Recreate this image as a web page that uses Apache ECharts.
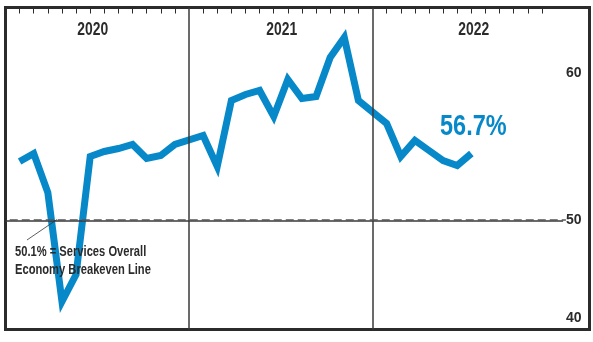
<!DOCTYPE html>
<html>
<head>
<meta charset="utf-8">
<script src="https://cdn.jsdelivr.net/npm/echarts@6/dist/echarts.min.js"></script>
<style>
  html, body { margin: 0; padding: 0; background: #fff; }
  #chart { width: 593px; height: 342px; }
</style>
</head>
<body>
<div id="chart"></div>
<script>
// ---- data ----
const years = ['2020', '2021', '2022'];
const months = ['Jan', 'Feb', 'Mar', 'Apr', 'May', 'Jun', 'Jul', 'Aug', 'Sep', 'Oct', 'Nov', 'Dec'];
const values2020 = [55.9, 56.7, 52.8, 41.9, 44.6, 56.4, 56.9, 57.2, 57.6, 56.2, 56.5, 57.6];
const values2021 = [58.5, 55.4, 62.0, 62.6, 63.0, 60.4, 64.1, 62.2, 62.4, 66.3, 68.3, 62.0];
const values2022 = [59.7, 56.4, 58.0, 57.0, 56.0, 55.5, 56.7];
const yTickValues = [40, 50, 60];
const baseline = 50;
const breakeven = 50.1;
const breakevenLines = [breakeven + '% = Services Overall', 'Economy Breakeven Line'];

// ---- layout (each year = 12 month slots + 1 spacer slot) ----
const slotsPerYear = months.length + 1;
const seriesByYear = [values2020, values2021, values2022];
const points = [];
seriesByYear.forEach((vals, yi) => {
  vals.forEach((v, mi) => points.push([yi * slotsPerYear + mi + 1, v]));
});
const tickPositions = [];
years.forEach((y, yi) => months.forEach((m, mi) => tickPositions.push(yi * slotsPerYear + mi + 1)));

const FONT = '"Liberation Sans", Arial, sans-serif';
const DARK = '#2b2b2b';
const BLUE = '#0788c8';
const xMax = 41.37;

const chart = echarts.init(document.getElementById('chart'), null, { renderer: 'canvas' });

chart.setOption({
  animation: false,
  backgroundColor: '#fff',
  grid: {
    left: 5.5, right: 3.5, top: 7.5, bottom: 12.5,
    show: true, borderColor: DARK, borderWidth: 3, backgroundColor: 'transparent'
  },
  xAxis: {
    type: 'value', min: 0, max: xMax, position: 'top',
    axisLine: { show: false },
    axisTick: { show: true, inside: true, length: 6, customValues: tickPositions, lineStyle: { color: DARK, width: 1 } },
    axisLabel: { show: false },
    splitLine: { show: false }
  },
  yAxis: {
    type: 'value', min: 39.1, max: 71.3, position: 'right',
    axisLine: { show: false }, axisTick: { show: false }, splitLine: { show: false },
    axisLabel: {
      show: true, inside: true, margin: 8, customValues: yTickValues,
      color: DARK, fontFamily: FONT, fontWeight: 'bold', fontSize: 14,
      formatter: (v) => v === 60 ? '{hi|' + v + '}' : (v === 40 ? '{lo|' + v + '}' : String(v)),
      rich: {
        hi: { padding: [0, 0, 94, 0], color: DARK, fontFamily: FONT, fontWeight: 'bold', fontSize: 14 },
        lo: { padding: [0, 0, 4, 0], color: DARK, fontFamily: FONT, fontWeight: 'bold', fontSize: 14 }
      }
    }
  },
  series: [
    {
      type: 'line', data: [], z: 1, silent: true,
      markLine: {
        silent: true, symbol: 'none', label: { show: false }, animation: false,
        data: [
          { xAxis: slotsPerYear, lineStyle: { color: '#3a3a3a', width: 1.5, type: 'solid' } },
          { xAxis: slotsPerYear * 2, lineStyle: { color: '#3a3a3a', width: 1.5, type: 'solid' } },
          [{ coord: [0, baseline], lineStyle: { color: '#3a3a3a', width: 1.5, type: 'solid' } }, { coord: [39.5, baseline] }],
          [{ coord: [0.3, breakeven], lineStyle: { color: '#555', width: 1.5, type: [8, 4] } }, { coord: [39.7, breakeven] }],
          [{ coord: [1.52, 48.05], lineStyle: { color: '#333', width: 0.8, type: 'solid' } }, { coord: [3.65, breakeven] }]
        ]
      }
    },
    {
      type: 'line', z: 3,
      data: points,
      symbol: 'none',
      lineStyle: { color: BLUE, width: 7, join: 'miter', cap: 'butt' },
      itemStyle: { color: BLUE }
    }
  ]
});

// ---- condensed text placed through the chart's own scales ----
const toPx = (pt) => chart.convertToPixel({ gridIndex: 0 }, pt);
const yearLabelNudge = [-4.5, 1, 9.5];
const graphics = [];
years.forEach((y, yi) => {
  const center = toPx([yi * slotsPerYear + (months.length + 1) / 2, 70]);
  graphics.push({
    type: 'text', x: center[0] + yearLabelNudge[yi], y: toPx([0, 71.3])[1] + 22, scaleX: 0.75, z: 100,
    style: { text: y, fill: DARK, font: 'bold 18.5px ' + FONT, textAlign: 'center', textVerticalAlign: 'middle' }
  });
});
const last = points[points.length - 1];
const lastPx = toPx(last);
graphics.push({
  type: 'text', x: lastPx[0] + 2, y: lastPx[1] - 27, scaleX: 0.81, z: 100,
  style: { text: last[1] + '%', fill: BLUE, font: 'bold 29px ' + FONT, textAlign: 'center', textVerticalAlign: 'middle' }
});
const bePx = toPx([0, breakeven]);
breakevenLines.forEach((t, i) => {
  graphics.push({
    type: 'text', x: bePx[0] + 9.5, y: bePx[1] + 32 + i * 18, scaleX: 0.72, z: 100,
    style: { text: t, fill: DARK, font: 'bold 15.5px ' + FONT, textAlign: 'left', textVerticalAlign: 'middle' }
  });
});
chart.setOption({ graphic: graphics });
</script>
</body>
</html>
